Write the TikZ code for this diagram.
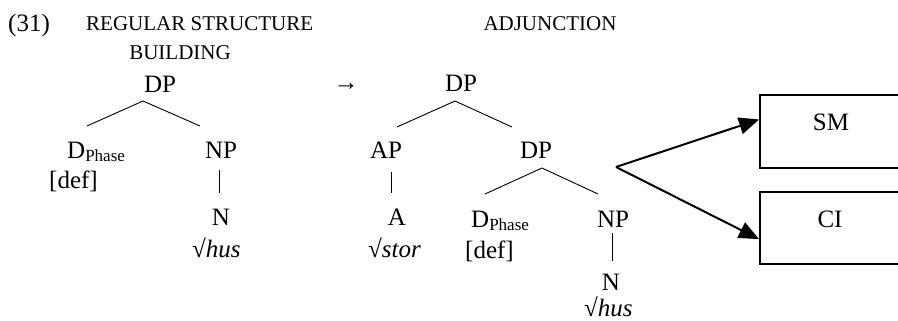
\documentclass[tikz,border=0pt]{standalone}
\usepackage{fontspec}
\setmainfont{Liberation Serif}
\usetikzlibrary{arrows.meta,calc}
\newcommand{\dphasetext}{D\raisebox{-3pt}{\fontsize{17}{17}\selectfont Phase}}
\begin{document}
\begin{tikzpicture}[x=1pt,y=-1pt,
  lbl/.style={inner sep=0pt, anchor=base, font=\fontsize{25}{30}\selectfont},
  lblw/.style={lbl, anchor=base west},
  hdr/.style={inner sep=0pt, anchor=base, font=\fontsize{21}{25}\selectfont},
  branch/.style={line width=0.9pt},
  outbox/.style={draw, line width=2pt, minimum width=142pt, minimum height=73pt, inner sep=0pt},
  feed/.style={line width=2pt, -{Triangle[length=20pt,width=17pt]}}
]
\useasboundingbox (0,0) rectangle (898,321);
\clip (0,0) rectangle (898,321);

% headings
\node[lblw] (ex) at (8,32) {(31)};
\node[hdr, anchor=base west] (h1) at (86,31) {REGULAR STRUCTURE};
\node[hdr] (h2) at (180,60) {BUILDING};
\node[hdr] (h3) at (550,31) {ADJUNCTION};

% tree 1
\node[lbl] (dp1) at (160,93) {DP};
\node[lblw] (d1) at (67,158) {\dphasetext};
\node[lbl] (np1) at (221,158) {NP};
\node[lblw] (def1) at (49,188) {[def]};
\node[lbl] (n1) at (221,225) {N};
\node[lblw] (hus1) at (192,257) {√\textit{hus}};
\coordinate (a1) at (143,101);
\coordinate (l1) at (87,126);
\coordinate (r1) at (200,126);
\draw[branch] (l1) -- (a1) -- (r1);
\coordinate (v1t) at (219,170);
\coordinate (v1b) at (219,193);
\draw[branch] (v1t) -- (v1b);

% arrow
\node[lbl] (arr) at (346,91) {→};

% tree 2
\node[lbl] (dp2) at (461,92) {DP};
\node[lbl] (ap) at (386,158) {AP};
\node[lbl] (dp3) at (536,158) {DP};
\node[lbl] (a) at (397,225) {A};
\node[lblw] (stor) at (368,257) {√\textit{stor}};
\node[lblw] (d2) at (471,227) {\dphasetext};
\node[lbl] (np2) at (613,227) {NP};
\node[lblw] (def2) at (465,258) {[def]};
\node[lbl] (n2) at (611,290) {N};
\node[lblw] (hus2) at (584,316) {√\textit{hus}};
\coordinate (a2) at (455,101);
\coordinate (l2) at (397,127);
\coordinate (r2) at (512,127);
\draw[branch] (l2) -- (a2) -- (r2);
\coordinate (a3) at (542,168);
\coordinate (l3) at (485,194);
\coordinate (r3) at (598,194);
\draw[branch] (l3) -- (a3) -- (r3);
\coordinate (vat) at (391,172);
\coordinate (vab) at (391,193);
\draw[branch] (vat) -- (vab);
\coordinate (v2t) at (612,233);
\coordinate (v2b) at (612,261);
\draw[branch] (v2t) -- (v2b);

% interfaces
\node[outbox] (smbox) at (831,131.5) {};
\node[outbox, minimum height=72pt] (cibox) at (831,228) {};
\node[lbl] (sm) at (831,131) {SM};
\node[lbl] (ci) at (830,227) {CI};
\coordinate (fork) at (616,167);
\coordinate (smin) at ($(smbox.north west)!0.34!(smbox.south west)$);
\coordinate (ciin) at ($(cibox.north west)!0.65!(cibox.south west)$);
\draw[feed] (fork) -- (smin);
\draw[feed] (fork) -- (ciin);
\end{tikzpicture}
\end{document}
